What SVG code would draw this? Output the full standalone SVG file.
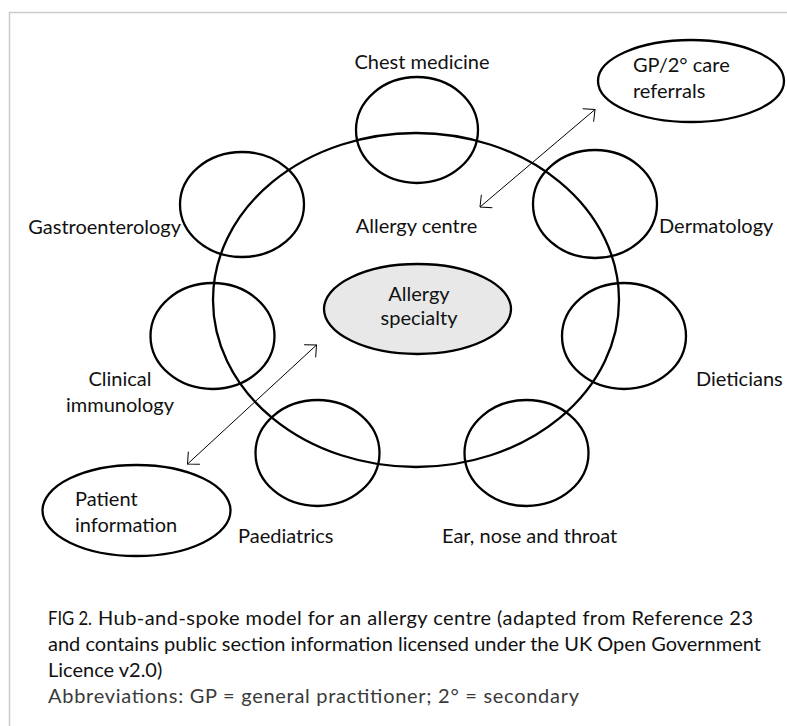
<svg xmlns="http://www.w3.org/2000/svg" width="787" height="726" viewBox="0 0 787 726">
<style>
.ring{fill:none;stroke:#000;stroke-width:2.3}
.hub{fill:#e8e8e8;stroke:#000;stroke-width:2.3}
.lbl{font-family:Lato,"Open Sans","Liberation Sans",sans-serif;font-size:20px;fill:#111}
.cap{font-family:Lato,"Open Sans","Liberation Sans",sans-serif;font-size:20px;fill:#111}
.abbr{font-family:Lato,"Open Sans","Liberation Sans",sans-serif;font-size:20px;font-weight:400;fill:#3a3a3a}
.conn{stroke:#000;stroke-width:1;fill:none;marker-start:url(#ah);marker-end:url(#ah)}
</style>
<defs>
<marker id="ah" viewBox="0 0 10 18" refX="9.5" refY="9" markerWidth="10" markerHeight="18" markerUnits="userSpaceOnUse" orient="auto-start-reverse">
<path d="M0.5,0.5 L9.5,9 L0.5,17.5" fill="none" stroke="#000" stroke-width="1"/>
</marker>
</defs>
<rect width="787" height="726" fill="#fff"/>
<path d="M9.5,726 V12.5 H787" fill="none" stroke="#cccccc" stroke-width="1.5"/>

<g id="allergy-centre">
<ellipse class="ring" cx="416" cy="300" rx="203" ry="167"/>
<text class="lbl" x="416.5" y="233" text-anchor="middle">Allergy centre</text>
</g>
<g id="allergy-specialty">
<ellipse class="hub" cx="417.5" cy="309" rx="93.5" ry="45"/>
<text class="lbl" x="419" y="301" text-anchor="middle">Allergy</text>
<text class="lbl" x="419" y="325" text-anchor="middle">specialty</text>
</g>
<g id="chest-medicine">
<ellipse class="ring" cx="417" cy="130" rx="61" ry="53"/>
<text class="lbl" x="422" y="69" text-anchor="middle">Chest medicine</text>
</g>
<g id="gastroenterology">
<ellipse class="ring" cx="242" cy="204.5" rx="62" ry="52.5"/>
<text class="lbl" x="181" y="234" text-anchor="end">Gastroenterology</text>
</g>
<g id="dermatology">
<ellipse class="ring" cx="595" cy="204" rx="62" ry="54"/>
<text class="lbl" x="659" y="233">Dermatology</text>
</g>
<g id="clinical-immunology">
<ellipse class="ring" cx="212.5" cy="336" rx="62" ry="53"/>
<text class="lbl" x="120" y="386" text-anchor="middle">Clinical</text>
<text class="lbl" x="120" y="412" text-anchor="middle">immunology</text>
</g>
<g id="dieticians">
<ellipse class="ring" cx="624" cy="336" rx="62" ry="53"/>
<text class="lbl" x="696" y="386">Dieticians</text>
</g>
<g id="paediatrics">
<ellipse class="ring" cx="317.5" cy="453" rx="62" ry="53"/>
<text class="lbl" x="238" y="543">Paediatrics</text>
</g>
<g id="ent">
<ellipse class="ring" cx="526.5" cy="453" rx="62" ry="53"/>
<text class="lbl" x="442" y="543">Ear, nose and throat</text>
</g>
<g id="gp-referrals">
<ellipse class="ring" cx="691" cy="81" rx="93" ry="41"/>
<text class="lbl" x="633" y="72">GP/2° care</text>
<text class="lbl" x="633" y="98">referrals</text>
</g>
<g id="patient-information">
<ellipse class="ring" cx="136.5" cy="510.5" rx="94" ry="45.5"/>
<text class="lbl" x="75" y="506">Patient</text>
<text class="lbl" x="75" y="532">information</text>
</g>

<g id="connectors">
<line class="conn" x1="480" y1="207" x2="595" y2="109.5"/>
<line class="conn" x1="187.5" y1="464" x2="316.5" y2="345"/>
</g>

<g id="caption">
<text class="cap" x="48" y="625" textLength="44" lengthAdjust="spacingAndGlyphs">FIG 2.</text>
<text class="cap" x="98" y="625" textLength="655">Hub-and-spoke model for an allergy centre (adapted from Reference 23</text>
<text class="cap" x="48" y="651" textLength="713">and contains public section information licensed under the UK Open Government</text>
<text class="cap" x="48" y="677">Licence v2.0)</text>
<text class="abbr" x="48" y="703" textLength="531">Abbreviations: GP = general practitioner; 2° = secondary</text>
</g>
</svg>
